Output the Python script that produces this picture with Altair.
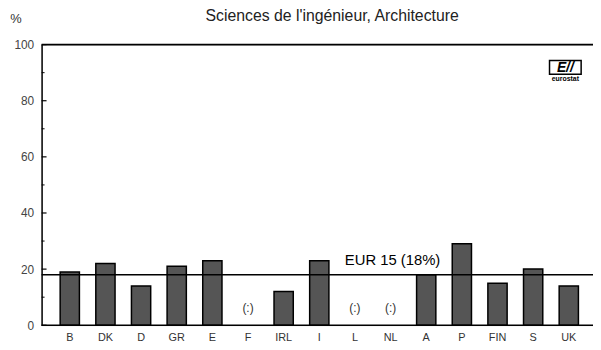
import altair as alt
import pandas as pd

countries = ["B", "DK", "D", "GR", "E", "F", "IRL", "I", "L", "NL", "A", "P", "FIN", "S", "UK"]
values = [19, 22, 14, 21, 23, None, 12, 23, None, None, 18, 29, 15, 20, 14]
missing = ["F", "L", "NL"]
eur15 = 18
major_ticks = [0, 20, 40, 60, 80, 100]
minor_ticks = [10, 30, 50, 70, 90]
title_text = "Sciences de l'ingénieur, Architecture"

font = "Liberation Sans"
df = pd.DataFrame({"pays": countries, "val": values})
df_bars = df.dropna()
df_miss = pd.DataFrame({"pays": missing, "lab": ["(:)"] * len(missing), "y": [6] * len(missing)})

xscale = alt.Scale(domain=countries, paddingInner=0.46, paddingOuter=0.465, align=0.56)
yscale = alt.Scale(domain=[0, 100], nice=False)

x_enc = alt.X("pays:N", scale=xscale, sort=countries,
              axis=alt.Axis(title=None, labelAngle=0, ticks=False, domain=False,
                            labelFont=font, labelFontSize=11, labelColor="#333",
                            labelPadding=6))

bars = alt.Chart(df_bars).mark_bar(fill="#555555", stroke="black", strokeWidth=1.5).encode(
    x=x_enc,
    y=alt.Y("val:Q", scale=yscale,
            axis=alt.Axis(title=None, values=major_ticks, ticks=False, grid=False,
                          domainColor="black", domainWidth=1.5,
                          labelFont=font, labelFontSize=12, labelColor="#444",
                          labelPadding=8)),
)

miss = alt.Chart(df_miss).mark_text(font=font, fontSize=12, color="#333").encode(
    x=alt.X("pays:N", scale=xscale, sort=countries),
    y=alt.Y("y:Q", scale=yscale),
    text="lab:N",
)

eur_df = pd.DataFrame({"v": [eur15], "lab": ["EUR 15 (18%)"], "pays": ["NL"]})
eur_line = alt.Chart(eur_df).mark_rule(color="black", strokeWidth=1.5).encode(
    y=alt.Y("v:Q", scale=yscale), x=alt.value(0), x2=alt.value(560))
eur_text = alt.Chart(eur_df).mark_text(font=font, fontSize=15, color="black",
                                       baseline="bottom", dy=-7, dx=2).encode(
    x=alt.X("pays:N", scale=xscale, sort=countries),
    y=alt.Y("v:Q", scale=yscale), text="lab:N")

base_df = pd.DataFrame({"v": [0, 100]})
frame = alt.Chart(base_df).mark_rule(color="black", strokeWidth=1.6).encode(
    y=alt.Y("v:Q", scale=yscale), x=alt.value(0), x2=alt.value(560))

tick_df = pd.DataFrame({"v": major_ticks})
ticks = alt.Chart(tick_df).mark_rule(color="black", strokeWidth=1.2).encode(
    y=alt.Y("v:Q", scale=yscale), x=alt.value(0), x2=alt.value(5))
mtick_df = pd.DataFrame({"v": minor_ticks})
mticks = alt.Chart(mtick_df).mark_rule(color="black", strokeWidth=1).encode(
    y=alt.Y("v:Q", scale=yscale), x=alt.value(0), x2=alt.value(3))

ann_df = pd.DataFrame({"t": [title_text]})
title = alt.Chart(ann_df).mark_text(font=font, fontSize=16, color="#222", align="center").encode(
    x=alt.value(294), y=alt.value(-29), text="t:N")
pct = alt.Chart(pd.DataFrame({"t": ["%"]})).mark_text(font=font, fontSize=13, color="#333").encode(
    x=alt.value(-26), y=alt.value(-26), text="t:N")

logo_box = alt.Chart(pd.DataFrame({"t": ["logo"]})).mark_rect(
    fill="white", stroke="black", strokeWidth=1.5).encode(
    x=alt.value(514), x2=alt.value(546), y=alt.value(16), y2=alt.value(30))
logo_e = alt.Chart(pd.DataFrame({"t": ["E//"]})).mark_text(
    font=font, fontSize=14, fontWeight="bold", fontStyle="italic", color="black").encode(
    x=alt.value(530), y=alt.value(23.5), text="t:N")
logo_t = alt.Chart(pd.DataFrame({"t": ["eurostat"]})).mark_text(
    font=font, fontSize=7, fontWeight="bold", color="black").encode(
    x=alt.value(530), y=alt.value(35), text="t:N")

chart = alt.layer(bars, miss, eur_line, eur_text, frame, ticks, mticks, title, pct,
                  logo_box, logo_e, logo_t).properties(
    width=558, height=284,
    autosize=alt.AutoSizeParams(type="none"),
    padding={"left": 34, "top": 35, "right": 0, "bottom": 22},
).configure_view(stroke=None).configure(background="white")

chart.save("out.html", embed_options={"renderer": "svg", "actions": False})
